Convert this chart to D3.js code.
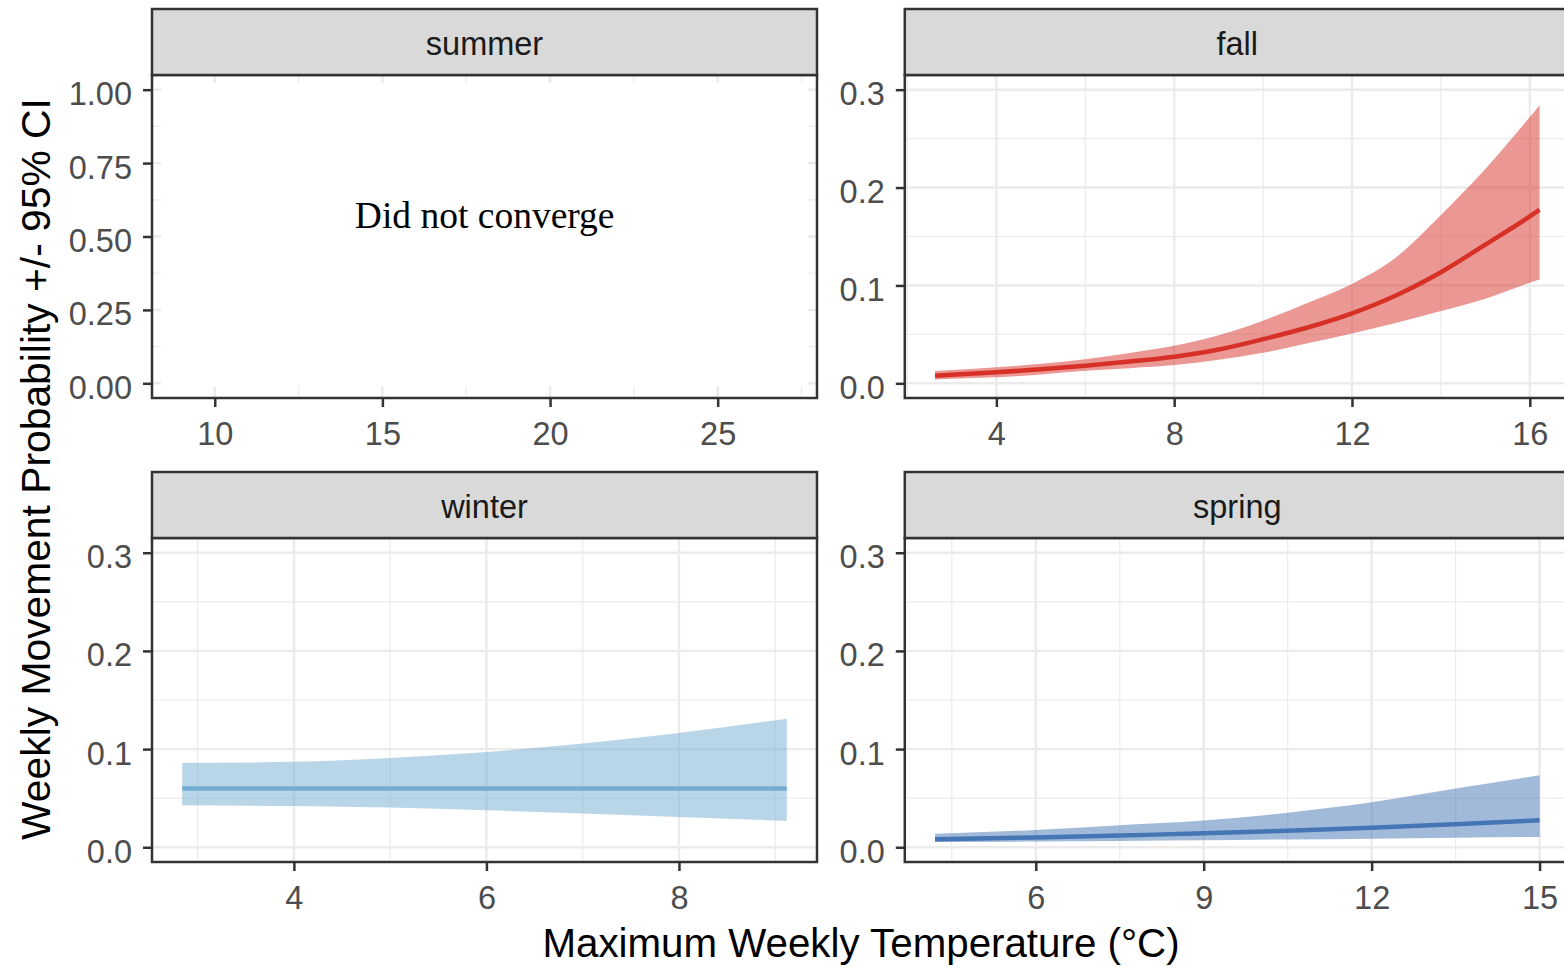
<!DOCTYPE html>
<html>
<head>
<meta charset="utf-8">
<script src="https://cdn.jsdelivr.net/npm/d3@7"></script>
<style>
  html, body { margin: 0; padding: 0; background: #ffffff; }
  svg { display: block; }
  text { font-family: "Liberation Sans", Arial, Helvetica, sans-serif; }
</style>
</head>
<body>
<svg id="chart" width="1564" height="969"></svg>
<script>
// ---- data: predicted weekly movement probability with 95% CI ----
const fallTemp  = [2.62, 3, 4, 5, 6, 7, 8, 9, 10, 11, 12, 13, 14, 15, 16, 16.22];
const fallFit   = [0.0077, 0.0088, 0.0112, 0.0143, 0.0179, 0.0222, 0.0271, 0.0345, 0.0451, 0.0570, 0.0715, 0.0900, 0.1135, 0.1417, 0.1705, 0.1773];
const fallLower = [0.0040, 0.0047, 0.0061, 0.0090, 0.0128, 0.0155, 0.0186, 0.0240, 0.0312, 0.0410, 0.0510, 0.0620, 0.0739, 0.0865, 0.1027, 0.1060];
const fallUpper = [0.0125, 0.0135, 0.0163, 0.0200, 0.0247, 0.0310, 0.0383, 0.0490, 0.0640, 0.0820, 0.1015, 0.1290, 0.1720, 0.2190, 0.2720, 0.2840];

const winterTemp  = [2.84, 4, 5, 6, 7, 8, 9.12];
const winterFit   = [0.0598, 0.0598, 0.0598, 0.0598, 0.0598, 0.0598, 0.0598];
const winterLower = [0.0428, 0.0420, 0.0404, 0.0377, 0.0343, 0.0309, 0.0268];
const winterUpper = [0.0859, 0.0870, 0.0910, 0.0970, 0.1056, 0.1164, 0.1310];

const springTemp  = [4.2, 6, 7.5, 9, 10.5, 12, 13.5, 15];
const springFit   = [0.0081, 0.0100, 0.0120, 0.0142, 0.0168, 0.0198, 0.0235, 0.0275];
const springLower = [0.0054, 0.0058, 0.0065, 0.0071, 0.0080, 0.0088, 0.0097, 0.0105];
const springUpper = [0.0139, 0.0177, 0.0224, 0.0272, 0.0352, 0.0458, 0.0598, 0.0733];

// summer model failed; only the observed temperature range is known
const summerTempRange = [9.03, 27.06];
const summerProbRange = [0, 1];
const summerNote = "Did not converge";
const summerNoteAt = [18.05, 0.575];
const summerMask = [[8.40, 27.70], [-0.011, 1.023]];

// ---- ticks ----
const summerTicksX = [10, 15, 20, 25];
const fallTicksX   = [4, 8, 12, 16];
const winterTicksX = [4, 6, 8];
const springTicksX = [6, 9, 12, 15];
const summerTicksY = [0, 0.25, 0.5, 0.75, 1];
const probTicksY   = [0, 0.1, 0.2, 0.3];
const probRange    = [0, 0.3];

// ---- colours ----
const fallColor   = "#D73027";
const winterColor = "#74ADD1";
const springColor = "#4575B4";

const xTitle = "Maximum Weekly Temperature (\u00B0C)";
const yTitle = "Weekly Movement Probability +/- 95% CI";

// ---- layout ----
const svg = d3.select("#chart");
const colX = [152, 904.8];
const panelW = 665;
const stripTop = [9, 472];
const stripH = 66;
const panelBottom = [398, 862];

const expand = (ext) => {
  const pad = (ext[1] - ext[0]) * 0.05;
  return [ext[0] - pad, ext[1] + pad];
};

const panels = [
  { name: "summer", col: 0, row: 0, xExt: summerTempRange, yExt: summerProbRange,
    xTicks: summerTicksX, yTicks: summerTicksY, yFmt: d3.format(".2f") },
  { name: "fall", col: 1, row: 0, xExt: d3.extent(fallTemp), yExt: probRange,
    xTicks: fallTicksX, yTicks: probTicksY, yFmt: d3.format(".1f"),
    temp: fallTemp, fit: fallFit, lo: fallLower, hi: fallUpper, color: fallColor },
  { name: "winter", col: 0, row: 1, xExt: d3.extent(winterTemp), yExt: probRange,
    xTicks: winterTicksX, yTicks: probTicksY, yFmt: d3.format(".1f"),
    temp: winterTemp, fit: winterFit, lo: winterLower, hi: winterUpper, color: winterColor },
  { name: "spring", col: 1, row: 1, xExt: d3.extent(springTemp), yExt: probRange,
    xTicks: springTicksX, yTicks: probTicksY, yFmt: d3.format(".1f"),
    temp: springTemp, fit: springFit, lo: springLower, hi: springUpper, color: springColor }
];

const minorOf = (ticks, dom) => {
  const step = ticks[1] - ticks[0];
  const out = ticks.map(t => t - step / 2).concat([ticks[ticks.length - 1] + step / 2]);
  return out.filter(v => v > dom[0] && v < dom[1]);
};

const defs = svg.append("defs");

panels.forEach((p) => {
  const x0 = colX[p.col], x1 = x0 + panelW;
  const sTop = stripTop[p.row];
  const y0 = sTop + stripH, y1 = panelBottom[p.row];

  const xs = d3.scaleLinear().domain(expand(p.xExt)).range([x0, x1]);
  const ys = d3.scaleLinear().domain(expand(p.yExt)).range([y1, y0]);

  const clipId = "clip-" + p.name;
  defs.append("clipPath").attr("id", clipId)
    .append("rect").attr("x", x0).attr("y", y0).attr("width", panelW).attr("height", y1 - y0);

  const g = svg.append("g").attr("class", "panel-" + p.name);
  const inner = g.append("g").attr("clip-path", `url(#${clipId})`);

  inner.append("rect").attr("x", x0).attr("y", y0).attr("width", panelW).attr("height", y1 - y0)
    .attr("fill", "#ffffff");

  // grid: minor then major
  const xMinor = minorOf(p.xTicks, xs.domain());
  const yMinor = minorOf(p.yTicks, ys.domain());
  inner.selectAll(".gxm").data(xMinor).join("line")
    .attr("x1", d => xs(d)).attr("x2", d => xs(d)).attr("y1", y0).attr("y2", y1)
    .attr("stroke", "#EBEBEB").attr("stroke-width", 1.2);
  inner.selectAll(".gym").data(yMinor).join("line")
    .attr("y1", d => ys(d)).attr("y2", d => ys(d)).attr("x1", x0).attr("x2", x1)
    .attr("stroke", "#EBEBEB").attr("stroke-width", 1.2);
  inner.selectAll(".gx").data(p.xTicks).join("line")
    .attr("x1", d => xs(d)).attr("x2", d => xs(d)).attr("y1", y0).attr("y2", y1)
    .attr("stroke", "#EBEBEB").attr("stroke-width", 2.4);
  inner.selectAll(".gy").data(p.yTicks).join("line")
    .attr("y1", d => ys(d)).attr("y2", d => ys(d)).attr("x1", x0).attr("x2", x1)
    .attr("stroke", "#EBEBEB").attr("stroke-width", 2.4);

  if (p.temp) {
    const rows = p.temp.map((t, k) => ({ t, fit: p.fit[k], lo: p.lo[k], hi: p.hi[k] }));
    const area = d3.area().curve(d3.curveMonotoneX)
      .x(d => xs(d.t)).y0(d => ys(d.lo)).y1(d => ys(d.hi));
    const line = d3.line().curve(d3.curveMonotoneX)
      .x(d => xs(d.t)).y(d => ys(d.fit));
    inner.append("path").datum(rows).attr("d", area)
      .attr("fill", p.color).attr("fill-opacity", 0.5);
    inner.append("path").datum(rows).attr("d", line)
      .attr("fill", "none").attr("stroke", p.color).attr("stroke-width", 4.5)
      .attr("stroke-linejoin", "round");
  } else {
    // note box for the season without a fitted model
    inner.append("rect")
      .attr("x", xs(summerMask[0][0])).attr("y", ys(summerMask[1][1]))
      .attr("width", xs(summerMask[0][1]) - xs(summerMask[0][0]))
      .attr("height", ys(summerMask[1][0]) - ys(summerMask[1][1]))
      .attr("fill", "#ffffff");
    inner.append("text")
      .attr("x", xs(summerNoteAt[0])).attr("y", ys(summerNoteAt[1]))
      .attr("dy", "0.35em").attr("text-anchor", "middle")
      .style("font-family", "'Liberation Serif', 'Times New Roman', Times, serif")
      .style("font-size", "37.5px").attr("fill", "#000000")
      .text(summerNote);
  }

  // panel border
  g.append("rect").attr("x", x0).attr("y", y0).attr("width", panelW).attr("height", y1 - y0)
    .attr("fill", "none").attr("stroke", "#333333").attr("stroke-width", 2.5);

  // strip
  g.append("rect").attr("x", x0).attr("y", sTop).attr("width", panelW).attr("height", stripH)
    .attr("fill", "#D9D9D9").attr("stroke", "#333333").attr("stroke-width", 2.5);
  g.append("text").attr("x", x0 + panelW / 2).attr("y", sTop + stripH / 2 + 13)
    .attr("text-anchor", "middle").attr("fill", "#1A1A1A").style("font-size", "32.5px")
    .text(p.name);

  // axes
  const xAxis = d3.axisBottom(xs).tickValues(p.xTicks).tickSize(9).tickPadding(16)
    .tickFormat(d3.format("d"));
  const xg = g.append("g").attr("transform", `translate(0,${y1})`).call(xAxis);
  const yAxis = d3.axisLeft(ys).tickValues(p.yTicks).tickSize(9).tickPadding(11)
    .tickFormat(p.yFmt);
  const yg = g.append("g").attr("transform", `translate(${x0},0)`).call(yAxis);

  [xg, yg].forEach(ax => {
    ax.select(".domain").remove();
    ax.selectAll(".tick line").attr("stroke", "#333333").attr("stroke-width", 2.5);
    ax.selectAll(".tick text").attr("fill", "#4D4D4D")
      .style("font-size", "32.5px").style("font-family", "'Liberation Sans', Arial, sans-serif");
  });
  xg.selectAll(".tick text").attr("dy", null).attr("y", 47).attr("dominant-baseline", "auto");
  yg.selectAll(".tick text").attr("dy", null).attr("y", 15).attr("dominant-baseline", "auto");
});

// axis titles
svg.append("text").attr("x", 861).attr("y", 957).attr("text-anchor", "middle")
  .attr("fill", "#000000").style("font-size", "40.3px").text(xTitle);
svg.append("text").attr("transform", "translate(50,469) rotate(-90)")
  .attr("text-anchor", "middle").attr("fill", "#000000").style("font-size", "40.8px").text(yTitle);
</script>
</body>
</html>
